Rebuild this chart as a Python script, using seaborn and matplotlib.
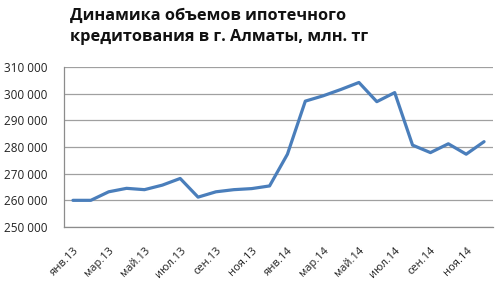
import matplotlib
matplotlib.use("Agg")
import matplotlib.pyplot as plt
import seaborn as sns
import pandas as pd
from matplotlib.ticker import FuncFormatter, FixedLocator

months = ["янв.13", "фев.13", "мар.13", "апр.13", "май.13", "июн.13", "июл.13", "авг.13",
          "сен.13", "окт.13", "ноя.13", "дек.13", "янв.14", "фев.14", "мар.14", "апр.14",
          "май.14", "июн.14", "июл.14", "авг.14", "сен.14", "окт.14", "ноя.14", "дек.14"]
values = [260000, 260000, 263200, 264500, 264000, 265700, 268200, 261200,
          263200, 264000, 264400, 265400, 277300, 297200, 299200, 301600,
          304200, 297000, 300400, 280700, 277900, 281200, 277300, 282000]
yticks = [250000, 260000, 270000, 280000, 290000, 300000, 310000]
title = "Динамика объемов ипотечного\nкредитования в г. Алматы, млн. тг"

df = pd.DataFrame({"idx": range(len(months)), "month": months, "value": values})

sns.set_style("white")
plt.rcParams["font.family"] = ["Open Sans", "DejaVu Sans"]

fig = plt.figure(figsize=(4.99, 2.87), dpi=100)
ax = fig.add_axes([64 / 499, 1 - 227 / 287, (493 - 64) / 499, (227 - 67) / 287])

sns.lineplot(data=df, x="idx", y="value", ax=ax, color="#4A7EBB", linewidth=2.3)

ax.set_xlim(-0.5, len(months) - 0.5)
ax.set_ylim(yticks[0], yticks[-1])
ax.yaxis.set_major_locator(FixedLocator(yticks))
ax.yaxis.set_major_formatter(FuncFormatter(lambda v, p: f"{int(v):,}".replace(",", " ")))
ax.grid(axis="y", color="#A0A0A0", linewidth=0.9)
ax.set_axisbelow(True)

label_idx = list(range(0, len(months), 2))
ax.set_xticks(label_idx)
ax.set_xticklabels([months[i] for i in label_idx], rotation=45, ha="right",
                   rotation_mode="anchor", fontsize=8, color="#222222")
ax.tick_params(axis="y", labelsize=8.5, colors="#222222", length=0, pad=12)
ax.tick_params(axis="x", length=0, pad=13)
ax.set_xlabel("")
ax.set_ylabel("")
for s in ["top", "right"]:
    ax.spines[s].set_visible(False)
for s in ["left", "bottom"]:
    ax.spines[s].set_color("#8C8C8C")
    ax.spines[s].set_linewidth(0.9)

fig.text(70 / 499, 1 - 8 / 287, title, ha="left", va="top", fontsize=11.8,
         fontweight="bold", color="#111111", linespacing=1.4)

fig.savefig("out.png", dpi=100)
